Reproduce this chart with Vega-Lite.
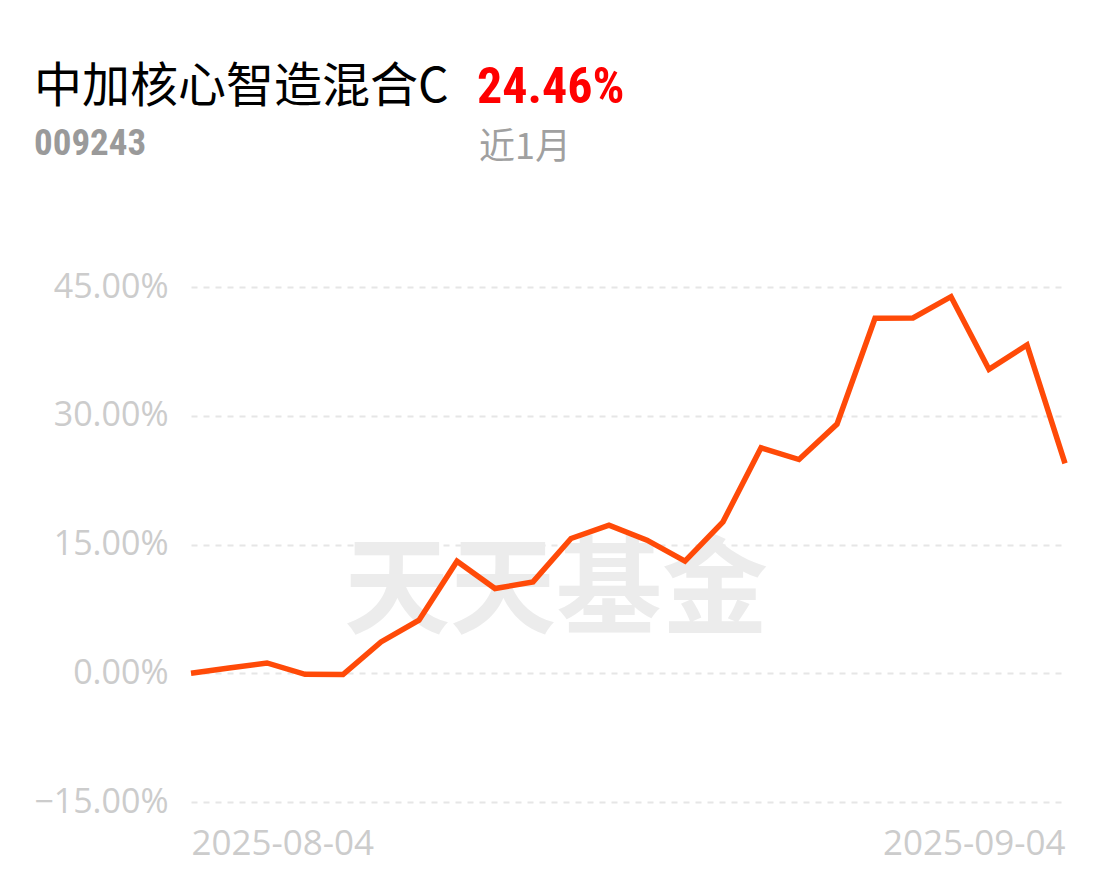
{
  "$schema": "https://vega.github.io/schema/vega-lite/v6.json",
  "width": 874,
  "height": 515,
  "autosize": "none",
  "padding": {"left": 191, "top": 287, "right": 45, "bottom": 74},
  "background": "white",
  "config": {"view": {"stroke": null}},
  "data": {
    "values": [
      {"date": "2025-08-04", "r": 0},
      {"date": "2025-08-05", "r": 0.6},
      {"date": "2025-08-06", "r": 1.2},
      {"date": "2025-08-07", "r": -0.12},
      {"date": "2025-08-08", "r": -0.15},
      {"date": "2025-08-11", "r": 3.65},
      {"date": "2025-08-12", "r": 6.18},
      {"date": "2025-08-13", "r": 13.06},
      {"date": "2025-08-14", "r": 9.87},
      {"date": "2025-08-15", "r": 10.64},
      {"date": "2025-08-18", "r": 15.7},
      {"date": "2025-08-19", "r": 17.25},
      {"date": "2025-08-20", "r": 15.5},
      {"date": "2025-08-21", "r": 13.06},
      {"date": "2025-08-22", "r": 17.64},
      {"date": "2025-08-25", "r": 26.27},
      {"date": "2025-08-26", "r": 24.9},
      {"date": "2025-08-27", "r": 29.03},
      {"date": "2025-08-28", "r": 41.35},
      {"date": "2025-08-29", "r": 41.4},
      {"date": "2025-09-01", "r": 43.87},
      {"date": "2025-09-02", "r": 35.4},
      {"date": "2025-09-03", "r": 38.24},
      {"date": "2025-09-04", "r": 24.46}
    ]
  },
  "layer": [
    {
      "data": {"values": [{"t": "天天基金"}]},
      "mark": {"type": "text", "font": "Noto Sans CJK SC", "fontWeight": "bold", "fontSize": 106, "color": "#ececec", "align": "center", "baseline": "middle", "dx": 23},
      "encoding": {
        "x": {"datum": "2025-08-15", "type": "ordinal"},
        "y": {"datum": 9.4, "type": "quantitative"},
        "text": {"field": "t"}
      }
    },
    {
      "mark": {"type": "line", "color": "#ff4a08", "strokeWidth": 5.5},
      "encoding": {
        "x": {
          "field": "date",
          "type": "ordinal",
          "scale": {"type": "point", "padding": 0},
          "axis": {
            "title": null,
            "values": ["2025-08-04", "2025-09-04"],
            "labelAngle": 0,
            "domain": false,
            "ticks": false,
            "grid": false,
            "labelFont": "Open Sans",
            "labelFontSize": 35,
            "labelColor": "#cccccc",
            "labelPadding": 41,
            "labelLimit": 0,
            "labelAlign": {"condition": {"test": "datum.value == '2025-08-04'", "value": "left"}, "value": "right"}
          }
        },
        "y": {
          "field": "r",
          "type": "quantitative",
          "scale": {"domain": [-15, 45], "nice": false, "zero": false},
          "axis": {
            "title": null,
            "values": [-15, 0, 15, 30, 45],
            "labelExpr": "format(datum.value, '.2f') + '%'",
            "domain": false,
            "ticks": false,
            "grid": true,
            "gridDash": [6, 6],
            "gridColor": "#e6e6e6",
            "gridWidth": 2,
            "labelFont": "Open Sans",
            "labelFontSize": 34,
            "labelColor": "#cccccc",
            "labelPadding": 23
          }
        }
      }
    },
    {
      "data": {"values": [{"t": "中加核心智造混合C"}]},
      "mark": {"type": "text", "font": "Noto Sans CJK SC", "fontSize": 48, "color": "#000000", "align": "left", "baseline": "alphabetic"},
      "encoding": {"x": {"value": -157}, "y": {"value": -185}, "text": {"field": "t"}}
    },
    {
      "data": {"values": [{"t": "24.46%"}]},
      "mark": {"type": "text", "font": "Roboto Condensed, DejaVu Sans Condensed, Roboto", "fontWeight": "bold", "fontSize": 50, "color": "#ff0000", "align": "left", "baseline": "alphabetic"},
      "encoding": {"x": {"value": 286}, "y": {"value": -184}, "text": {"field": "t"}}
    },
    {
      "data": {"values": [{"t": "009243"}]},
      "mark": {"type": "text", "font": "Roboto Condensed, DejaVu Sans Condensed, Roboto", "fontWeight": "bold", "fontSize": 37, "color": "#9a9a9a", "align": "left", "baseline": "alphabetic"},
      "encoding": {"x": {"value": -157}, "y": {"value": -132}, "text": {"field": "t"}}
    },
    {
      "data": {"values": [{"t": "近1月"}]},
      "mark": {"type": "text", "font": "Noto Sans CJK SC", "fontSize": 36, "color": "#a0a0a0", "align": "left", "baseline": "alphabetic"},
      "encoding": {"x": {"value": 288}, "y": {"value": -128}, "text": {"field": "t"}}
    }
  ]
}
